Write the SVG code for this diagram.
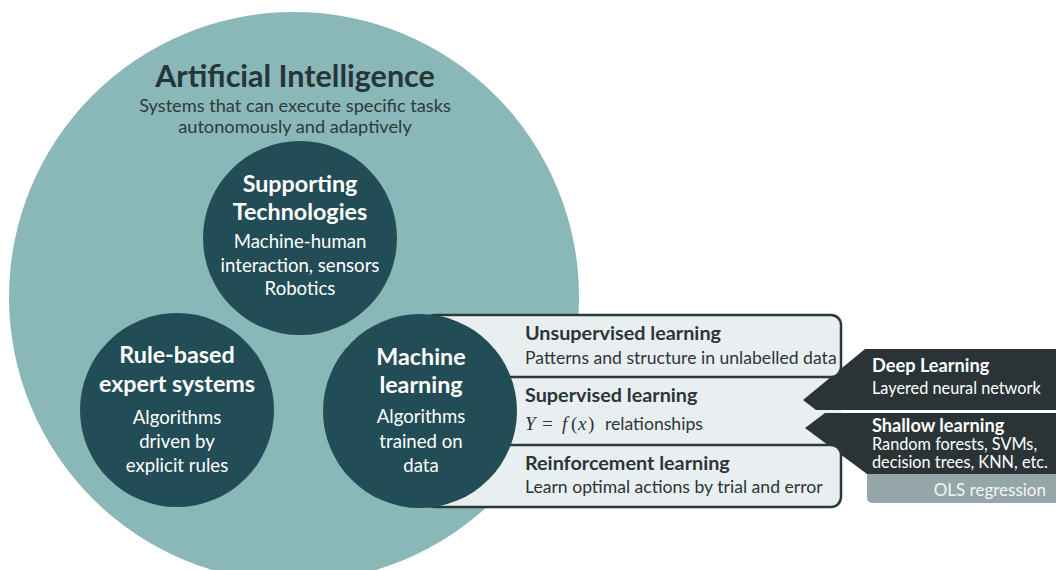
<svg xmlns="http://www.w3.org/2000/svg" width="1056" height="570" viewBox="0 0 1056 570">
  <style>
    .t { font-family: Lato, "Open Sans", "Liberation Sans", sans-serif; }
    .head { font-weight: 700; fill: #ffffff; font-size: 23.3px; text-anchor: middle; }
    .body { fill: #ffffff; font-size: 18.6px; text-anchor: middle; }
    .bh { font-weight: 700; fill: #2b3538; font-size: 19.8px; }
    .bb { fill: #2b3538; font-size: 17.6px; }
    .dh { font-weight: 700; fill: #ffffff; font-size: 18.2px; }
    .db { fill: #ffffff; font-size: 16.3px; }
    .circ { fill: #234d56; }
    .box { fill: #e9eff0; stroke: #2c393c; stroke-width: 2.5; }
    .arrow { fill: #2a3437; }
    .math { font-family: "Liberation Serif", "DejaVu Serif", serif; font-size: 19px; fill: #2b3538; }
  </style>

  <!-- Outer field: Artificial Intelligence -->
  <g id="ai">
    <circle cx="294" cy="297" r="285" fill="#8ab7b8"/>
    <text class="t" x="295" y="87" text-anchor="middle" font-weight="700" font-size="30.5" fill="#263538">Artificial Intelligence</text>
    <text class="t" x="295" y="112" text-anchor="middle" font-size="18.2" fill="#2e3a3c">Systems that can execute specific tasks</text>
    <text class="t" x="295" y="133" text-anchor="middle" font-size="18.2" fill="#2e3a3c">autonomously and adaptively</text>
  </g>

  <!-- Machine learning branches: shared background of the middle band -->
  <g id="ml-branches">
    <rect x="425" y="316" width="416" height="190" fill="#e9eff0"/>
  </g>

  <!-- Model families pointing into supervised learning -->
  <g id="deep-learning">
    <path class="arrow" d="M865,349 L1056,349 L1056,410 L816,410 L803,400 Z"/>
    <text class="t dh" x="872" y="372">Deep Learning</text>
    <text class="t db" x="872" y="394">Layered neural network</text>
  </g>
  <g id="shallow-learning">
    <path class="arrow" d="M825,413 L1056,413 L1056,474 L867,474 L805,428 Z"/>
    <text class="t dh" x="872" y="432">Shallow learning</text>
    <text class="t db" x="872" y="450">Random forests, SVMs,</text>
    <text class="t db" x="872" y="468">decision trees, KNN, etc.</text>
  </g>
  <g id="ols">
    <path d="M867,474 H1056 V503 H873 Q867,503 867,497 Z" fill="#94a6a8"/>
    <text class="t" x="1046" y="496" text-anchor="end" font-size="17" fill="#f2f6f6">OLS regression</text>
  </g>

  <g id="unsupervised">
    <rect class="box" x="425" y="315" width="416" height="62" rx="10"/>
    <text class="t bh" x="525" y="340">Unsupervised learning</text>
    <text class="t bb" x="525" y="364">Patterns and structure in unlabelled data</text>
  </g>
  <g id="supervised">
    <text class="t bh" x="525" y="402">Supervised learning</text>
    <text class="math" y="430"><tspan x="525" font-style="italic">Y</tspan><tspan x="542">=</tspan><tspan x="562" font-style="italic">f</tspan><tspan x="571">(</tspan><tspan x="578" font-style="italic">x</tspan><tspan x="588">)</tspan></text>
    <text class="t bb" x="605" y="430">relationships</text>
  </g>
  <g id="reinforcement">
    <rect class="box" x="425" y="445" width="416" height="62" rx="10"/>
    <text class="t bh" x="525" y="470">Reinforcement learning</text>
    <text class="t bb" x="525" y="493">Learn optimal actions by trial and error</text>
  </g>

  <!-- Inner circles -->
  <g id="supporting-tech">
    <circle class="circ" cx="300" cy="238" r="97"/>
    <text class="t head" x="300" y="192">Supporting</text>
    <text class="t head" x="300" y="220">Technologies</text>
    <text class="t body" x="300" y="248">Machine-human</text>
    <text class="t body" x="300" y="272">interaction, sensors</text>
    <text class="t body" x="300" y="295">Robotics</text>
  </g>
  <g id="rule-based">
    <circle class="circ" cx="177" cy="410" r="97"/>
    <text class="t head" x="177" y="363">Rule-based</text>
    <text class="t head" x="177" y="392">expert systems</text>
    <text class="t body" x="177" y="424">Algorithms</text>
    <text class="t body" x="177" y="448">driven by</text>
    <text class="t body" x="177" y="472">explicit rules</text>
  </g>
  <g id="machine-learning">
    <circle class="circ" cx="420" cy="411" r="97"/>
    <text class="t head" x="421" y="365">Machine</text>
    <text class="t head" x="421" y="393">learning</text>
    <text class="t body" x="421" y="423">Algorithms</text>
    <text class="t body" x="421" y="448">trained on</text>
    <text class="t body" x="421" y="472">data</text>
  </g>
</svg>
